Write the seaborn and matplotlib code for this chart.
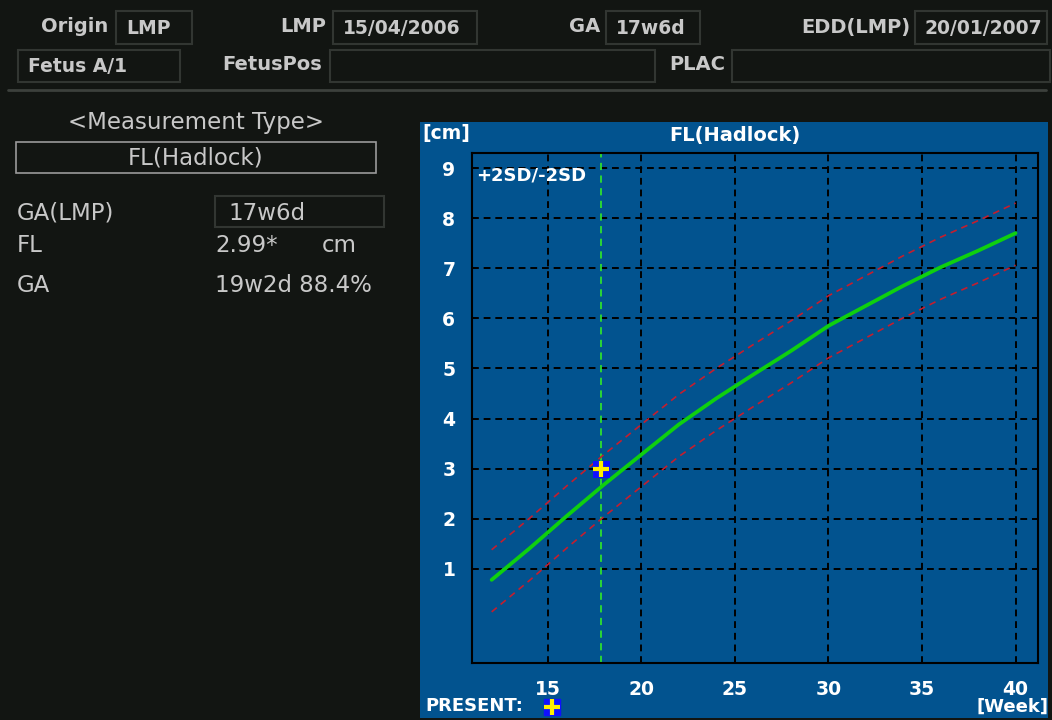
import matplotlib
matplotlib.use('Agg')
import matplotlib.pyplot as plt
from matplotlib.patches import Rectangle
import seaborn as sns
import pandas as pd

# Dados da curva FL (Hadlock): semanas e comprimento do fêmur (cm)
semanas = [12, 14, 16, 18, 20, 22, 24, 26, 28, 30, 32, 34, 36, 38, 40]
fl_media = [0.78, 1.40, 2.05, 2.68, 3.28, 3.88, 4.40, 4.88, 5.35, 5.85, 6.25, 6.65, 7.02, 7.35, 7.70]
fl_mais2sd = [1.38, 2.00, 2.65, 3.28, 3.88, 4.48, 5.00, 5.48, 5.95, 6.45, 6.85, 7.25, 7.62, 7.95, 8.30]
fl_menos2sd = [0.14, 0.76, 1.41, 2.04, 2.64, 3.24, 3.76, 4.24, 4.71, 5.21, 5.61, 6.01, 6.38, 6.71, 7.06]

# Medida atual
ga_lmp = 17 + 6 / 7   # 17w6d
fl_medido = 2.99

xticks = [15, 20, 25, 30, 35, 40]
yticks = [1, 2, 3, 4, 5, 6, 7, 8, 9]

# Cabeçalho: (rótulo, x direita do rótulo, caixa x0, caixa x1, valor)
cab_linha1 = [("Origin", 108, 116, 192, "LMP"),
              ("LMP", 326, 333, 477, "15/04/2006"),
              ("GA", 600, 606, 700, "17w6d"),
              ("EDD(LMP)", 910, 915, 1047, "20/01/2007")]
cab_linha2 = [(None, None, 18, 180, "Fetus A/1"),
              ("FetusPos", 322, 330, 655, ""),
              ("PLAC", 725, 732, 1050, "")]

FUNDO = "#121512"
AZUL = "#02538f"
CINZA = "#c8c8c8"
BORDA = "#323632"

sns.set_style("white")
plt.rcParams['font.family'] = ['DejaVu Sans']

fig = plt.figure(figsize=(10.52, 7.2), dpi=100, facecolor=FUNDO)

# Eixo de fundo em coordenadas de pixel
bg = fig.add_axes([0, 0, 1, 1], zorder=0)
bg.set_xlim(0, 1052)
bg.set_ylim(720, 0)
bg.axis('off')
bg.set_facecolor(FUNDO)


def caixa(x0, y0, x1, y1, cor=BORDA, lw=1.5):
    bg.add_patch(Rectangle((x0, y0), x1 - x0, y1 - y0, fill=False, edgecolor=cor, lw=lw))


for rot, xr, bx0, bx1, val in cab_linha1:
    bg.text(xr, 27, rot, ha='right', va='center', color=CINZA, fontsize=14, fontweight='bold')
    caixa(bx0, 11, bx1, 44)
    bg.text(bx0 + 10, 29, val, ha='left', va='center', color=CINZA, fontsize=13.5, fontweight='bold')

for rot, xr, bx0, bx1, val in cab_linha2:
    if rot:
        bg.text(xr, 65, rot, ha='right', va='center', color=CINZA, fontsize=14, fontweight='bold')
    caixa(bx0, 50, bx1, 82)
    bg.text(bx0 + 10, 67, val, ha='left', va='center', color=CINZA, fontsize=13.5, fontweight='bold')

bg.plot([8, 1046], [90, 90], color="#3c403c", lw=2)

# Painel esquerdo
fs = 16.5
bg.text(196, 122, "<Measurement Type>", ha='center', va='center', color=CINZA, fontsize=fs)
caixa(16, 142, 376, 173, cor="#9a9a9a", lw=1.2)
bg.text(196, 158, "FL(Hadlock)", ha='center', va='center', color=CINZA, fontsize=fs)
bg.text(17, 213, "GA(LMP)", ha='left', va='center', color=CINZA, fontsize=fs)
caixa(215, 196, 384, 227)
bg.text(228, 213, "17w6d", ha='left', va='center', color=CINZA, fontsize=fs)
bg.text(17, 246, "FL", ha='left', va='center', color=CINZA, fontsize=fs)
bg.text(215, 246, "2.99*", ha='left', va='center', color=CINZA, fontsize=fs)
bg.text(322, 246, "cm", ha='left', va='center', color=CINZA, fontsize=fs)
bg.text(17, 286, "GA", ha='left', va='center', color=CINZA, fontsize=fs)
bg.text(215, 286, "19w2d 88.4%", ha='left', va='center', color=CINZA, fontsize=fs)

# Painel azul do gráfico
bg.add_patch(Rectangle((420, 122), 628, 596, facecolor=AZUL, edgecolor='none'))
bg.text(422, 134, "[cm]", ha='left', va='center', color='white', fontsize=13.5, fontweight='bold')
bg.text(735, 135, "FL(Hadlock)", ha='center', va='center', color='white', fontsize=14, fontweight='bold')
bg.text(425, 706, "PRESENT:", ha='left', va='center', color='white', fontsize=13, fontweight='bold')
bg.scatter([552], [707], marker='s', s=120, color='#1010ff', zorder=3)
bg.scatter([552], [707], marker='+', s=120, color='#ffee00', linewidths=3, zorder=4)
bg.text(1048, 707, "[Week]", ha='right', va='center', color='white', fontsize=13, fontweight='bold')

# Eixo do gráfico
ax = fig.add_axes([472 / 1052, 1 - 663 / 720, (1038 - 472) / 1052, (663 - 153) / 720], zorder=2)
ax.set_facecolor(AZUL)

df = pd.DataFrame({"semana": semanas, "media": fl_media,
                   "mais2sd": fl_mais2sd, "menos2sd": fl_menos2sd})

sns.lineplot(data=df, x="semana", y="mais2sd", ax=ax, color="#c41e2e", lw=1.2, dashes=False,
             linestyle=(0, (4, 3)), zorder=3)
sns.lineplot(data=df, x="semana", y="menos2sd", ax=ax, color="#c41e2e", lw=1.2, dashes=False,
             linestyle=(0, (4, 3)), zorder=3)
sns.lineplot(data=df, x="semana", y="media", ax=ax, color="#0fd00f", lw=2.7, zorder=4)

ax.axvline(ga_lmp, color="#2ee02e", lw=1.3, linestyle=(0, (4, 3)), zorder=2)
sns.scatterplot(x=[ga_lmp], y=[fl_medido], ax=ax, marker='s', s=150, color='#1010ff',
                edgecolor='none', zorder=5)
ax.scatter([ga_lmp], [fl_medido], marker='+', s=130, color='#ffee00', linewidths=3, zorder=6)

ax.set_xlim(10.95, 41.2)
ax.set_ylim(-0.88, 9.3)
ax.set_xticks(xticks)
ax.set_yticks(yticks)
ax.grid(True, color='black', lw=1.4, linestyle=(0, (3.5, 2.5)))
ax.set_axisbelow(True)
for s in ax.spines.values():
    s.set_color('black')
    s.set_linewidth(1.5)
ax.tick_params(length=0, colors='white', labelsize=13.5)
ax.tick_params(axis='x', pad=12)
ax.tick_params(axis='y', pad=12)
for lb in ax.get_xticklabels() + ax.get_yticklabels():
    lb.set_fontweight('bold')
ax.set_xlabel("")
ax.set_ylabel("")

ax.text(0.008, 0.955, "+2SD/-2SD", transform=ax.transAxes, ha='left', va='center',
        color='white', fontsize=13, fontweight='bold')

fig.savefig("out.png", dpi=100, facecolor=FUNDO)
